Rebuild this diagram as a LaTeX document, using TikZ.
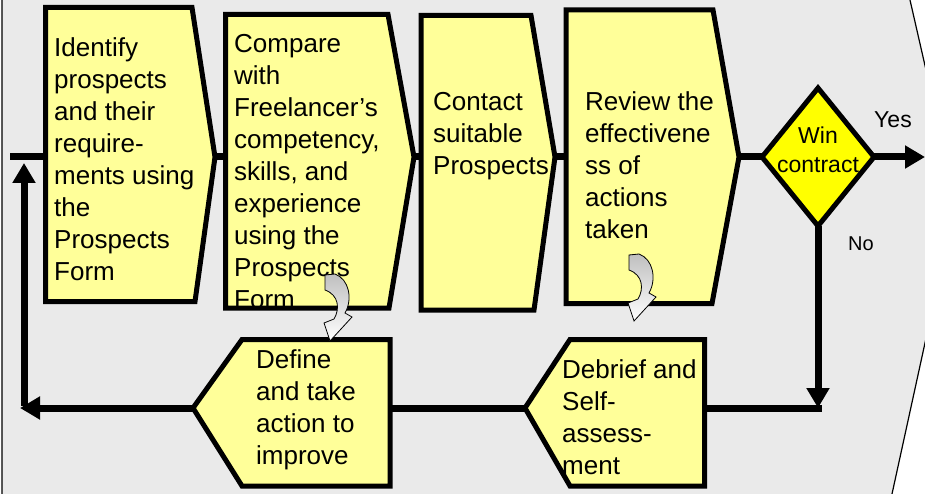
\documentclass[tikz,border=0pt]{standalone}
\usepackage{fontspec}
\setmainfont{Liberation Sans}
\usetikzlibrary{arrows.meta}
\definecolor{bggray}{HTML}{EAEAEA}
\definecolor{paleyellow}{HTML}{FFFF99}
\definecolor{winyellow}{HTML}{FFFF00}
\tikzset{
  stepbox/.style={draw=black,line width=5pt,fill=paleyellow},
  txt/.style={anchor=north west,inner sep=0pt,align=left,font=\fontsize{26}{32}\selectfont},
  conn/.style={line width=7pt},
  arr/.style={conn,-{Triangle[width=22pt,length=20pt]}},
  curly/.pic={
    \path[draw=black,line width=0.8pt,top color=gray!50,bottom color=white]
      (0,0) -- (10,-1) .. controls (24,4) and (28,24) .. (20,38)
      -- (27,42) -- (5,66) -- (-1,48) -- (9,44)
      .. controls (15,34) and (14,20) .. (0,15) -- cycle;
  }
}
\begin{document}
\begin{tikzpicture}[x=1pt,y=-1pt]
\useasboundingbox (0,0) rectangle (925,494);
\begin{scope}
\clip (0,0) rectangle (925,494);
\draw[fill=bggray,line width=1.2pt] (2,-10) -- (907.7,-10) -- (956,201) -- (889.8,504) -- (2,504) -- cycle;
\end{scope}

% connection points
\coordinate (idW) at (45.5,157);
\coordinate (idE) at (215,157);
\coordinate (cmW) at (225.5,157);
\coordinate (cmE) at (414,157);
\coordinate (ctW) at (421,157);
\coordinate (ctE) at (555,157);
\coordinate (rvW) at (566,157);
\coordinate (rvE) at (739,157);
\coordinate (winW) at (762,157);
\coordinate (winE) at (874,157);
\coordinate (winS) at (818,226);
\coordinate (yesEnd) at (925,157);
\coordinate (noCorner) at (818,408);
\coordinate (dbE) at (704.5,408);
\coordinate (dbW) at (525,408);
\coordinate (dfE) at (390,408);
\coordinate (dfW) at (193,408);
\coordinate (backL) at (20,408);
\coordinate (loopBot) at (24,406);
\coordinate (loopTop) at (24,163);
\coordinate (loopIn) at (10,157);

% connectors
\draw[conn] (idE) -- (cmW);
\draw[conn] (cmE) -- (ctW);
\draw[conn] (ctE) -- (rvW);
\draw[conn] (rvE) -- (winW);
\draw[arr] (winE) -- (yesEnd);
\draw[arr] (winS) -- (noCorner);
\draw[conn,line cap=rect] (noCorner) -- (dbE);
\draw[conn] (dbW) -- (dfE);
\draw[arr] (dfW) -- (backL);
\draw[arr] (loopBot) -- (loopTop);
\draw[conn] (loopIn) -- (idW);

% boxes
\draw[stepbox] (45.5,7.5) -- (192,7.5) -- (idE) -- (195,301.5) -- (45.5,301.5) -- cycle;
\draw[stepbox] (225.5,14.5) -- (388,14.5) -- (cmE) -- (389,308) -- (225.5,308) -- cycle;
\draw[stepbox] (421,15.5) -- (531,15.5) -- (ctE) -- (534,310) -- (421,310) -- cycle;
\draw[stepbox] (566,10) -- (713,10) -- (rvE) -- (712,303.5) -- (566,303.5) -- cycle;
\draw[line width=5pt,fill=winyellow] (818,88) -- (winE) -- (winS) -- (winW) -- cycle;
\draw[stepbox] (dfW) -- (242,339.5) -- (390,339.5) -- (390,486) -- (242,486) -- cycle;
\draw[stepbox] (dbW) -- (570,339.5) -- (704.5,339.5) -- (704.5,486) -- (570,486) -- cycle;

% texts
\node (idtxt) at (54,37) [txt] {Identify\\prospects\\and their\\require-\\ments using\\the\\Prospects\\Form};
\node (cmtxt) at (234,34) [txt] {Compare\\with\\Freelancer’s\\competency,\\skills, and\\experience\\using the\\Prospects\\Form};
\node (cttxt) at (433,92) [txt] {Contact\\suitable\\Prospects};
\node (rvtxt) at (585,91) [txt] {Review the\\effectivene\\ss of\\actions\\taken};
\node (dftxt) at (256,349) [txt] {Define\\and take\\action to\\improve};
\node (dbtxt) at (562,359) [txt] {Debrief and\\Self-\\assess-\\ment};
\node (wintxt) at (818,127) [anchor=north,inner sep=0pt,align=center,font=\fontsize{23}{29}\selectfont] {Win\\contract};
\node (yes) at (874,128) [anchor=base west,inner sep=0pt,font=\fontsize{23}{29}\selectfont] {Yes};
\node (no) at (848,250) [anchor=base west,inner sep=0pt,font=\fontsize{20}{24}\selectfont] {No};

% small turn arrows
\pic at (325,275) {curly};
\pic at (629,255) {curly};
\end{tikzpicture}
\end{document}
